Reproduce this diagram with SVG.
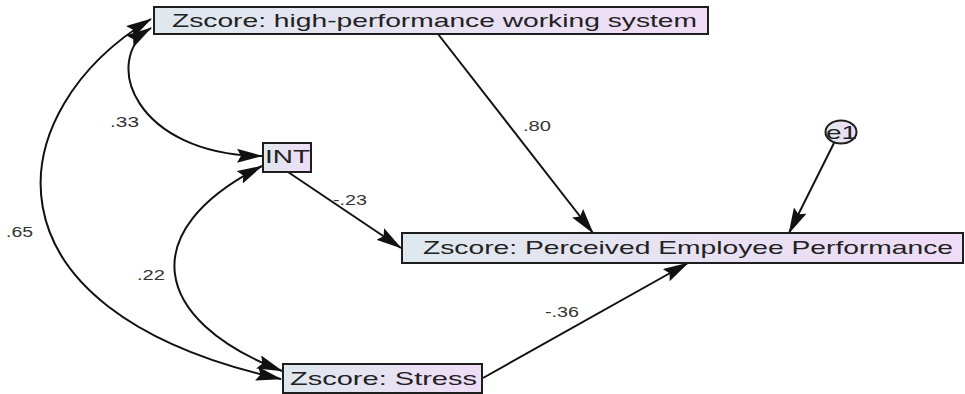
<svg xmlns="http://www.w3.org/2000/svg" width="965" height="394" viewBox="0 0 965 394">
  <style>
    .box { stroke: #1e1e1e; stroke-width: 2; fill: url(#boxFill); }
    .lbl { font-family: "Liberation Sans", Arial, sans-serif; font-size: 18.5px; fill: #222; }
    .coef { font-family: "Liberation Sans", Arial, sans-serif; font-size: 14px; fill: #333; }
    .edge { fill: none; stroke: #111; stroke-width: 2; }
  </style>
  <defs>
    <linearGradient id="boxFill" x1="0" y1="0" x2="1" y2="0">
      <stop offset="0" stop-color="#dfe8ee"/>
      <stop offset="1" stop-color="#efdcf6"/>
    </linearGradient>
    <marker id="ah" viewBox="0 0 26 14" refX="25" refY="7" markerWidth="26" markerHeight="14" markerUnits="userSpaceOnUse" orient="auto-start-reverse">
      <path d="M0,0 L26,7 L0,14 L4,7 z" fill="#111"/>
    </marker>
  </defs>

  <rect width="965" height="394" fill="#ffffff"/>

  <!-- connectors -->
  <g id="connectors">
    <!-- covariances (double-headed curves) -->
    <path class="edge" d="M151,19 C0,110 -30,310 281,379" marker-start="url(#ah)" marker-end="url(#ah)"/>
    <path class="edge" d="M151,28 C100,60 135,155 262,156" marker-start="url(#ah)" marker-end="url(#ah)"/>
    <path class="edge" d="M262,166 C135,230 150,320 282,371" marker-start="url(#ah)" marker-end="url(#ah)"/>
    <!-- regression paths -->
    <path class="edge" d="M438,34 L593,233" marker-end="url(#ah)"/>
    <path class="edge" d="M834,143 L789,233" marker-end="url(#ah)"/>
    <path class="edge" d="M288,172 L401,248" marker-end="url(#ah)"/>
    <path class="edge" d="M483,378 L688,263" marker-end="url(#ah)"/>
    <!-- coefficients -->
    <text class="coef" x="523" y="131" textLength="28" lengthAdjust="spacingAndGlyphs">.80</text>
    <text class="coef" x="110" y="127" textLength="29" lengthAdjust="spacingAndGlyphs">.33</text>
    <text class="coef" x="6" y="237" textLength="27" lengthAdjust="spacingAndGlyphs">.65</text>
    <text class="coef" x="137" y="280" textLength="28" lengthAdjust="spacingAndGlyphs">.22</text>
    <text class="coef" x="333" y="205" textLength="34" lengthAdjust="spacingAndGlyphs">-.23</text>
    <text class="coef" x="545" y="317" textLength="34" lengthAdjust="spacingAndGlyphs">-.36</text>
  </g>

  <!-- observed variables -->
  <g id="hpws">
    <rect class="box" x="154" y="7" width="554" height="27"/>
    <text class="lbl" x="172" y="27" textLength="525" lengthAdjust="spacingAndGlyphs">Zscore:  high-performance working system</text>
  </g>
  <g id="int">
    <rect class="box" x="263" y="143" width="48" height="29"/>
    <text class="lbl" x="265" y="163" textLength="45" lengthAdjust="spacingAndGlyphs">INT</text>
  </g>
  <g id="pep">
    <rect class="box" x="402" y="233" width="561" height="30"/>
    <text class="lbl" x="423" y="253.5" textLength="530" lengthAdjust="spacingAndGlyphs">Zscore:  Perceived Employee Performance</text>
  </g>
  <g id="stress">
    <rect class="box" x="283" y="364" width="199" height="29"/>
    <text class="lbl" x="290" y="385" textLength="187" lengthAdjust="spacingAndGlyphs">Zscore:  Stress</text>
  </g>

  <!-- error term -->
  <g id="e1">
    <ellipse class="box" cx="841" cy="132" rx="15.5" ry="11.5"/>
    <text class="lbl" x="826" y="139" font-size="19" textLength="31" lengthAdjust="spacingAndGlyphs">e1</text>
  </g>
</svg>
